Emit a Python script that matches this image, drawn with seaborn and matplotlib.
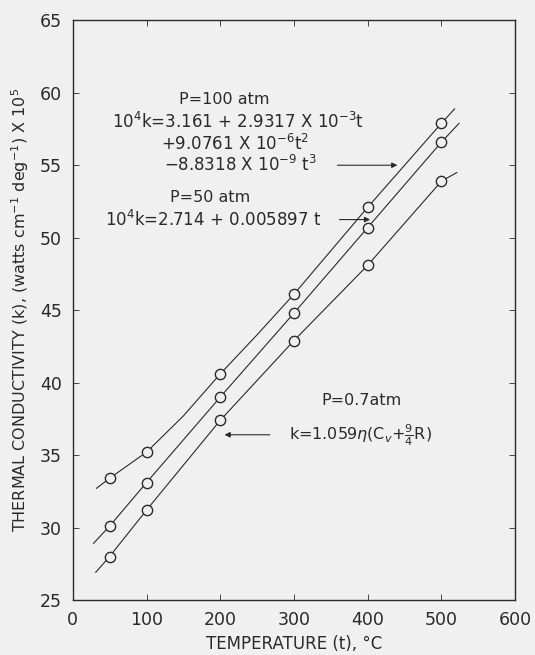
import numpy as np
import pandas as pd
import seaborn as sns
import matplotlib.pyplot as plt

# measured points, k x 10^5 (watts cm-1 deg-1)
temps = [50, 100, 200, 300, 400, 500]
k_100atm = [33.4, 35.2, 40.6, 46.1, 52.1, 57.9]
k_50atm = [30.1, 33.1, 39.0, 44.8, 50.7, 56.6]
k_07atm = [28.0, 31.2, 37.4, 42.9, 48.1, 53.9]

# drawn curves
curve_t_100 = [32, 50, 75, 100, 150, 200, 250, 300, 400, 500, 518]
curve_k_100 = [32.7, 33.4, 34.3, 35.2, 37.7, 40.6, 43.3, 46.1, 52.1, 57.9, 58.9]
curve_t_50 = [28, 50, 100, 200, 300, 400, 500, 524]
curve_k_50 = [28.9, 30.1, 33.1, 39.0, 44.8, 50.7, 56.6, 57.9]
curve_t_07 = [31, 50, 100, 200, 300, 400, 500, 521]
curve_k_07 = [26.9, 28.0, 31.2, 37.4, 42.9, 48.1, 53.9, 54.5]

xticks = [0, 100, 200, 300, 400, 500, 600]
yticks = [25, 30, 35, 40, 45, 50, 55, 60, 65]

bg = '#f0f0f0'
ink = '#2a2a2a'

sns.set_style("ticks")
plt.rcParams['font.family'] = ['DejaVu Sans']
plt.rcParams['mathtext.fontset'] = 'dejavusans'

fig = plt.figure(figsize=(5.35, 6.55), dpi=100, facecolor=bg)
ax = fig.add_axes([0.136, 0.084, 0.827, 0.885])
ax.set_facecolor(bg)

for ct, ck in [(curve_t_100, curve_k_100), (curve_t_50, curve_k_50), (curve_t_07, curve_k_07)]:
    sns.lineplot(x=ct, y=ck, ax=ax, color=ink, linewidth=0.8, sort=False)

pts = pd.DataFrame({
    't': temps * 3,
    'k': k_100atm + k_50atm + k_07atm,
})
sns.scatterplot(data=pts, x='t', y='k', ax=ax, s=55, facecolor=bg,
                edgecolor=ink, linewidth=1.0, zorder=5)

ax.set_xlim(0, 600)
ax.set_ylim(25, 65)
ax.set_xticks(xticks)
ax.set_yticks(yticks)
ax.tick_params(direction='in', length=4, width=0.6, top=True, right=True,
               labelsize=12.5, colors=ink, pad=8)
for s in ax.spines.values():
    s.set_linewidth(1.0)
    s.set_color(ink)

ax.set_xlabel('TEMPERATURE (t), °C', fontsize=12, color=ink, labelpad=4)
ax.set_ylabel(r'THERMAL CONDUCTIVITY (k), (watts cm$^{-1}$ deg$^{-1}$) X 10$^{5}$',
              fontsize=11.5, color=ink, labelpad=6)

fs = 11.5
ax.text(206, 59.55, 'P=100 atm', ha='center', va='center', fontsize=fs, color=ink)
ax.text(224, 58.0, r'10$^{4}$k=3.161 + 2.9317 X 10$^{-3}$t', ha='center', va='center',
        fontsize=fs + 0.5, color=ink)
ax.text(220, 56.45, r'+9.0761 X 10$^{-6}$t$^{2}$', ha='center', va='center',
        fontsize=fs + 0.5, color=ink)
ax.text(227, 55.0, r'$-$8.8318 X 10$^{-9}$ t$^{3}$', ha='center', va='center',
        fontsize=fs + 0.5, color=ink)
ax.annotate('', xy=(444, 55.0), xytext=(355, 55.0),
            arrowprops=dict(arrowstyle='-|>', color=ink, lw=0.8, mutation_scale=8))

ax.text(186, 52.8, 'P=50 atm', ha='center', va='center', fontsize=fs, color=ink)
ax.text(190, 51.2, r'10$^{4}$k=2.714 + 0.005897 t', ha='center', va='center',
        fontsize=fs + 0.5, color=ink)
ax.annotate('', xy=(407, 51.25), xytext=(358, 51.25),
            arrowprops=dict(arrowstyle='-|>', color=ink, lw=0.8, mutation_scale=8))

ax.text(392, 38.75, 'P=0.7atm', ha='center', va='center', fontsize=fs, color=ink)
ax.text(390, 36.4, r'k=1.059$\eta$(C$_{v}$+$\frac{9}{4}$R)', ha='center', va='center',
        fontsize=fs, color=ink)
ax.annotate('', xy=(202, 36.4), xytext=(271, 36.4),
            arrowprops=dict(arrowstyle='-|>', color=ink, lw=0.8, mutation_scale=8))

fig.savefig('out.png', dpi=100, facecolor=bg)
